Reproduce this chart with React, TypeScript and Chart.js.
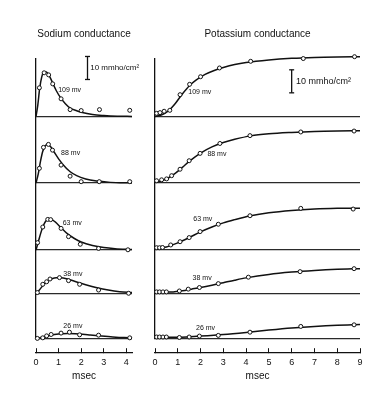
import React, { useEffect, useRef } from "react";
import { Chart, registerables } from "chart.js";
Chart.register(...registerables);

type P = [number, number];

// ---------- data ----------
const panelLabels = ["109 mv", "88 mv", "63 mv", "38 mv", "26 mv"];
const naTicks = [0, 1, 2, 3, 4];
const kTicks = [0, 1, 2, 3, 4, 5, 6, 7, 8, 9];

// Sodium conductance (mmho/cm²) vs time (msec): observed points
const na109Obs: P[] = [[0.15, 12.5], [0.36, 19], [0.56, 18.1], [0.74, 14.2], [1.11, 7.7], [1.51, 3.0], [2.0, 2.6], [2.81, 3.0], [4.15, 2.7]];
const na88Obs: P[] = [[0.15, 6.4], [0.33, 15.5], [0.55, 16.8], [0.73, 14.3], [1.11, 7.8], [1.51, 3.0], [2.0, 0.6], [2.8, 0.6], [4.15, 0.6]];
const na63Obs: P[] = [[0.07, 3.2], [0.3, 10], [0.52, 13.3], [0.65, 13.2], [1.11, 9.4], [1.44, 5.8], [1.96, 2.5], [2.77, 0.7], [4.07, 0.1]];
const na38Obs: P[] = [[0.06, 0.4], [0.3, 4.0], [0.47, 5.1], [0.62, 6.3], [1.04, 6.9], [1.44, 5.6], [1.93, 4.0], [2.77, 1.5], [4.1, 0.1]];
const na26Obs: P[] = [[0.06, 0.1], [0.3, 0.35], [0.47, 1.2], [0.67, 1.8], [1.11, 2.4], [1.48, 2.8], [1.93, 1.65], [2.77, 1.5], [4.15, 0.35]];

// Sodium conductance: theoretical curves
const na109Fit: P[] = [[0, 0], [0.08, 5], [0.16, 12], [0.25, 17], [0.35, 19.3], [0.45, 19.3], [0.6, 17.5], [0.75, 14.3], [0.9, 11.2], [1.1, 8.0], [1.3, 5.6], [1.5, 3.8], [1.8, 2.5], [2.0, 1.9], [2.5, 0.9], [3.0, 0.45], [3.6, 0.15], [4.25, 0.05]];
const na88Fit: P[] = [[0, 0], [0.1, 4], [0.2, 9.5], [0.3, 13.8], [0.42, 16.3], [0.52, 16.8], [0.65, 15.8], [0.8, 13.5], [1.0, 10.5], [1.2, 8], [1.5, 5], [1.8, 3.2], [2.2, 1.8], [2.7, 0.9], [3.2, 0.4], [3.8, 0.15], [4.25, 0.05]];
const na63Fit: P[] = [[0, 0], [0.1, 3.5], [0.2, 7], [0.3, 10], [0.42, 12.4], [0.55, 13.4], [0.68, 13.3], [0.85, 12.2], [1.1, 9.8], [1.4, 7], [1.7, 5], [2.0, 3.5], [2.5, 2], [3.0, 1.1], [3.5, 0.6], [4.25, 0.25]];
const na38Fit: P[] = [[0, 0], [0.15, 1.5], [0.3, 3.4], [0.5, 5.3], [0.7, 6.4], [0.9, 6.9], [1.1, 6.9], [1.4, 6.3], [1.8, 5], [2.2, 3.8], [2.7, 2.5], [3.2, 1.5], [3.7, 0.8], [4.25, 0.4]];
const na26Fit: P[] = [[0, 0], [0.3, 0.7], [0.6, 1.4], [1.0, 2.0], [1.4, 2.2], [1.9, 2.0], [2.4, 1.6], [2.9, 1.15], [3.4, 0.75], [3.9, 0.45], [4.25, 0.35]];

// Potassium conductance: observed points
const k109Obs: P[] = [[0.07, 1.4], [0.22, 1.7], [0.4, 2.3], [0.65, 2.7], [1.1, 9.5], [1.52, 14], [2.0, 17.3], [2.83, 21.1], [4.2, 24], [6.51, 25.2], [8.76, 26]];
const k88Obs: P[] = [[0.07, 1], [0.29, 1.4], [0.51, 1.8], [0.73, 3.2], [1.1, 6.0], [1.5, 9.7], [1.98, 12.9], [2.85, 17.2], [4.17, 20.6], [6.4, 22.2], [8.74, 22.6]];
const k63Obs: P[] = [[0.07, 1.0], [0.2, 1.0], [0.33, 1.1], [0.69, 2.2], [1.1, 3.6], [1.5, 5.4], [1.98, 8], [2.78, 11.2], [4.17, 14.9], [6.4, 18.1], [8.7, 17.8]];
const k38Obs: P[] = [[0.07, 0.7], [0.2, 0.7], [0.35, 0.7], [0.5, 0.7], [1.07, 1.1], [1.46, 1.9], [1.95, 2.6], [2.78, 4.3], [4.1, 7.1], [6.37, 9.5], [8.74, 10.8]];
const k26Obs: P[] = [[0.07, 0.7], [0.2, 0.7], [0.35, 0.7], [0.5, 0.7], [1.07, 0.5], [1.5, 0.7], [1.95, 1.1], [2.78, 1.4], [4.17, 2.8], [6.4, 5.3], [8.74, 6.0]];

// Potassium conductance: theoretical curves
const k109Fit: P[] = [[0, 0], [0.3, 0.8], [0.6, 2.6], [0.9, 5.8], [1.2, 9.8], [1.5, 13.3], [1.8, 15.8], [2.2, 18.3], [2.6, 20], [3.0, 21.3], [3.5, 22.6], [4.0, 23.5], [5, 24.6], [6, 25.3], [7, 25.7], [8, 25.9], [9, 26]];
const k88Fit: P[] = [[0, 0.5], [0.3, 1.0], [0.6, 2.3], [0.9, 4.3], [1.2, 6.8], [1.5, 9.4], [2.0, 13], [2.5, 15.7], [3.0, 17.6], [3.5, 19], [4.2, 20.5], [5, 21.4], [6, 22], [7, 22.4], [8, 22.6], [9, 22.7]];
const k63Fit: P[] = [[0, 0.6], [0.5, 1.3], [1, 3.1], [1.5, 5.4], [2, 7.9], [2.5, 10], [3, 11.8], [3.5, 13.2], [4.2, 14.9], [5, 16.2], [6, 17.2], [7, 17.8], [8, 18.1], [9, 18.2]];
const k38Fit: P[] = [[0, 0.6], [0.8, 0.7], [1.2, 1.2], [1.6, 1.9], [2, 2.6], [2.5, 3.6], [3, 4.7], [3.5, 5.8], [4, 6.8], [5, 8.3], [6, 9.3], [7, 10], [8, 10.5], [9, 10.8]];
const k26Fit: P[] = [[0, 0.6], [1, 0.6], [1.5, 0.8], [2, 1.1], [3, 1.8], [4, 2.7], [5, 3.7], [6, 4.6], [7, 5.3], [8, 5.8], [9, 6.1]];

// label anchors (data coordinates within each panel)
const naLabelAt: P[] = [[0.98, 11.7], [1.11, 13], [1.18, 11.6], [1.21, 8.5], [1.21, 5.4]];
const kLabelAt: P[] = [[1.46, 10.8], [2.3, 12.6], [1.68, 13.5], [1.65, 6.5], [1.8, 4.7]];

// 10 mmho/cm² calibration bars (x, yBottom, yTop) in panel 1
const naBar = [2.28, 16.1, 26.1];
const kBar = [6.0, 10.3, 20.3];

// ---------- layout ----------
const panelMax = [25, 28.9, 29.1, 18.9, 19.6];
const spacerMax = 5.9;
const FONT = "'Liberation Sans', Arial, sans-serif";
const INK = "#111111";

const textPlugin = {
  id: "panelText",
  afterDatasetsDraw(chart: any, _args: any, opts: any) {
    const ctx = chart.ctx;
    const xs = chart.scales.x;
    (opts.items || []).forEach((it: any) => {
      const ys = chart.scales[it.axis];
      ctx.save();
      ctx.font = it.font;
      ctx.fillStyle = INK;
      ctx.textAlign = "left";
      ctx.textBaseline = "middle";
      ctx.fillText(it.text, xs.getPixelForValue(it.x), ys.getPixelForValue(it.y));
      ctx.restore();
    });
  },
};

function buildConfig(p: any) {
  const datasets: any[] = [];
  p.fits.forEach((f: P[], i: number) => {
    datasets.push({
      type: "line",
      data: f.map(([x, y]) => ({ x, y })),
      xAxisID: "x",
      yAxisID: "p" + i,
      borderColor: INK,
      borderWidth: 1.5,
      pointRadius: 0,
      cubicInterpolationMode: "monotone",
      clip: false,
      order: 2,
    });
  });
  p.obs.forEach((o: P[], i: number) => {
    datasets.push({
      type: "line",
      data: o.map(([x, y]) => ({ x, y })),
      xAxisID: "x",
      yAxisID: "p" + i,
      showLine: false,
      pointStyle: "circle",
      pointRadius: 2,
      pointBorderWidth: 1,
      pointBackgroundColor: "#ffffff",
      pointBorderColor: INK,
      clip: false,
      order: 1,
    });
  });
  const [bx, b0, b1] = p.bar;
  datasets.push({
    type: "line",
    data: [{ x: bx, y: b0 }, { x: bx, y: b1 }],
    xAxisID: "x",
    yAxisID: "p0",
    borderColor: INK,
    borderWidth: 1.3,
    pointStyle: "line",
    pointRadius: 2.5,
    pointBorderWidth: 1.3,
    pointBorderColor: INK,
    clip: false,
    order: 0,
  });

  const scales: any = {
    x: {
      type: "linear",
      position: "bottom",
      min: 0,
      max: p.xMax,
      afterBuildTicks: (ax: any) => {
        ax.ticks = p.xTicks.map((v: number) => ({ value: v }));
      },
      ticks: { font: { size: 9, family: FONT }, color: INK, padding: 9, maxRotation: 0, autoSkip: false },
      grid: { drawOnChartArea: false, drawTicks: true, tickLength: -4, color: INK, lineWidth: 1 },
      border: { display: true, color: INK, width: 1.2 },
      title: { display: true, text: "msec", font: { size: 10, family: FONT }, color: INK, padding: { top: -7, bottom: 0 } },
    },
  };
  // stacked left axes: the last one defined is placed on top
  scales.sp = {
    type: "linear",
    position: "left",
    stack: "col",
    stackWeight: spacerMax,
    min: 0,
    max: spacerMax,
    ticks: { display: false },
    grid: { display: false, drawTicks: false },
    border: { display: false },
  };
  for (let i = panelMax.length - 1; i >= 0; i--) {
    const m = panelMax[i];
    scales["p" + i] = {
      type: "linear",
      position: "left",
      stack: "col",
      stackWeight: m,
      min: 0,
      max: m,
      afterBuildTicks: (ax: any) => {
        ax.ticks = [{ value: 0 }];
      },
      ticks: { display: false },
      grid: { color: "#2a2a2a", lineWidth: 1.2, drawTicks: false },
      border: { display: true, color: INK, width: 1.3 },
    };
  }

  const items: any[] = [];
  p.labelAt.forEach(([x, y]: P, i: number) => {
    items.push({ text: panelLabels[i], x, y, axis: "p" + i, font: `7px ${FONT}` });
  });
  items.push({ text: "10 mmho/cm²", x: p.barLabel[0], y: p.barLabel[1], axis: "p0", font: `${p.barFont}px ${FONT}` });

  return {
    type: "line",
    data: { datasets },
    options: {
      animation: false,
      responsive: false,
      events: [],
      layout: { padding: p.padding },
      scales,
      plugins: {
        legend: { display: false },
        tooltip: { enabled: false },
        title: {
          display: true,
          text: p.title,
          font: { size: 10, family: FONT, weight: "normal" },
          color: INK,
          padding: { top: 0, bottom: 19 },
        },
        panelText: { items },
      },
    },
    plugins: [textPlugin],
  };
}

function Panel(props: { cfg: any; left: number; width: number }) {
  const ref = useRef<HTMLCanvasElement>(null);
  useEffect(() => {
    const chart = new Chart(ref.current as HTMLCanvasElement, props.cfg);
    return () => chart.destroy();
  }, []);
  return (
    <canvas
      ref={ref}
      width={props.width}
      height={398}
      style={{ position: "absolute", left: props.left, top: 0, width: props.width, height: 398 }}
    />
  );
}

export default function App() {
  const naCfg = buildConfig({
    fits: [na109Fit, na88Fit, na63Fit, na38Fit, na26Fit],
    obs: [na109Obs, na88Obs, na63Obs, na38Obs, na26Obs],
    labelAt: naLabelAt,
    xMax: 4.25,
    xTicks: naTicks,
    title: "Sodium conductance",
    bar: naBar,
    barLabel: [2.4, 21.3],
    barFont: 8,
    padding: { left: 36, right: 18, top: 28, bottom: 16 },
  });
  const kCfg = buildConfig({
    fits: [k109Fit, k88Fit, k63Fit, k38Fit, k26Fit],
    obs: [k109Obs, k88Obs, k63Obs, k38Obs, k26Obs],
    labelAt: kLabelAt,
    xMax: 9,
    xTicks: kTicks,
    title: "Potassium conductance",
    bar: kBar,
    barLabel: [6.19, 15.4],
    barFont: 9,
    padding: { left: 15, right: 28, top: 28, bottom: 16 },
  });
  return (
    <div style={{ position: "absolute", left: 0, top: 0, width: 388, height: 398, background: "#ffffff" }}>
      <Panel cfg={naCfg} left={0} width={150} />
      <Panel cfg={kCfg} left={140} width={248} />
    </div>
  );
}
